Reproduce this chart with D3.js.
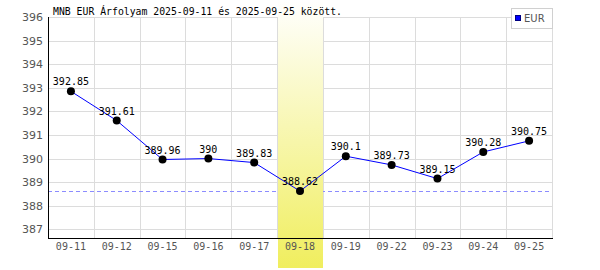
<!DOCTYPE html>
<html>
<head>
<meta charset="utf-8">
<script src="https://cdn.jsdelivr.net/npm/d3@7"></script>
<style>
body { margin: 0; background: #fff; }
svg { display: block; }
</style>
</head>
<body>
<div id="chart"></div>
<script>
var dates = ["09-11", "09-12", "09-15", "09-16", "09-17", "09-18", "09-19", "09-22", "09-23", "09-24", "09-25"];
var rates = [392.85, 391.61, 389.96, 390, 389.83, 388.62, 390.1, 389.73, 389.15, 390.28, 390.75];
var yTicks = [387, 388, 389, 390, 391, 392, 393, 394, 395, 396];
var highlightDate = "09-18";
var seriesName = "EUR";
var title = "MNB EUR Árfolyam 2025-09-11 és 2025-09-25 között.";

var W = 600, H = 270;
var plotLeft = 48, plotRight = 552, plotTop = 17, plotBottom = 238.3;
var mono = "'DejaVu Sans Mono', monospace";

var data = dates.map(function(d, i) { return {date: d, rate: rates[i]}; });
var minRate = d3.min(rates);

var svg = d3.select("#chart").append("svg").attr("width", W).attr("height", H);

var x = d3.scaleBand().domain(dates).range([plotLeft, plotRight]).padding(0);
var y = d3.scaleLinear().domain([minRate - 2, 396]).range([plotBottom, plotTop]);
var cx = function(d) { return x(d.date) + x.bandwidth() / 2; };

// gradient for highlighted day
var grad = svg.append("defs").append("linearGradient").attr("id", "hl").attr("x1", 0).attr("y1", 0).attr("x2", 0).attr("y2", 1);
grad.append("stop").attr("offset", "0%").attr("stop-color", "#ffffff");
grad.append("stop").attr("offset", "100%").attr("stop-color", "#f0ee5e");

// grid
var grid = svg.append("g").attr("shape-rendering", "crispEdges");
grid.selectAll(".hg").data(yTicks).enter().append("line")
    .attr("x1", plotLeft).attr("x2", plotRight)
    .attr("y1", function(d) { return Math.round(y(d)) + 0.5; })
    .attr("y2", function(d) { return Math.round(y(d)) + 0.5; })
    .attr("stroke", "#dcdcdc");
grid.selectAll(".vg").data(dates).enter().append("line")
    .attr("x1", function(d) { return Math.round(x(d) + x.bandwidth()) + 0.5; })
    .attr("x2", function(d) { return Math.round(x(d) + x.bandwidth()) + 0.5; })
    .attr("y1", plotTop).attr("y2", plotBottom)
    .attr("stroke", "#dcdcdc");

// min line
svg.append("line").attr("x1", plotLeft).attr("x2", plotRight)
    .attr("y1", Math.round(y(minRate)) + 0.5).attr("y2", Math.round(y(minRate)) + 0.5)
    .attr("stroke", "#8c8cff").attr("stroke-dasharray", "4,3").attr("shape-rendering", "crispEdges");

// highlight band
svg.append("rect")
    .attr("x", Math.round(x(highlightDate)) + 1).attr("y", 0)
    .attr("width", Math.round(x.bandwidth()) - 1).attr("height", 268)
    .attr("fill", "url(#hl)");

// axes
svg.append("line").attr("x1", plotLeft + 0.5).attr("x2", plotLeft + 0.5).attr("y1", plotTop).attr("y2", plotBottom + 0.5)
    .attr("stroke", "#000").attr("shape-rendering", "crispEdges");
svg.append("line").attr("x1", plotLeft).attr("x2", plotRight + 1).attr("y1", Math.round(plotBottom) + 0.5).attr("y2", Math.round(plotBottom) + 0.5)
    .attr("stroke", "#000").attr("shape-rendering", "crispEdges");

var yAxis = svg.append("g").attr("transform", "translate(" + plotLeft + ",0)")
    .call(d3.axisLeft(y).tickValues(yTicks).tickSize(0).tickPadding(5).tickFormat(d3.format("d")));
yAxis.select(".domain").remove();
yAxis.selectAll("text").attr("fill", "#555").style("font-family", "'DejaVu Sans', sans-serif").style("font-size", "11px");

var xAxis = svg.append("g").attr("transform", "translate(0," + plotBottom + ")")
    .call(d3.axisBottom(x).tickSize(0).tickPadding(5));
xAxis.select(".domain").remove();
xAxis.selectAll("text").attr("fill", "#555").style("font-family", mono).style("font-size", "10px");

// series
var line = d3.line().x(cx).y(function(d) { return y(d.rate); });
svg.append("path").datum(data).attr("d", line).attr("fill", "none").attr("stroke", "#0000ff").attr("stroke-width", 1);

svg.selectAll(".pt").data(data).enter().append("circle")
    .attr("cx", cx).attr("cy", function(d) { return y(d.rate); }).attr("r", 4).attr("fill", "#000");

svg.selectAll(".lbl").data(data).enter().append("text")
    .attr("x", cx).attr("y", function(d) { return y(d.rate) - 6; })
    .attr("text-anchor", "middle").style("font-family", mono).style("font-size", "10px").attr("fill", "#000")
    .text(function(d) { return d.rate; });

// title
svg.append("text").attr("x", 53).attr("y", 15).style("font-family", mono).style("font-size", "9.8px").attr("fill", "#000").text(title);

// legend
var lg = svg.append("g").attr("shape-rendering", "crispEdges");
lg.append("rect").attr("x", 511.5).attr("y", 8.5).attr("width", 41).attr("height", 20).attr("fill", "#fff").attr("stroke", "#d0d0d0");
lg.append("rect").attr("x", 515.5).attr("y", 15.5).attr("width", 5).attr("height", 5).attr("fill", "#0000ff").attr("stroke", "#000080");
lg.append("text").attr("x", 524).attr("y", 22).style("font-family", "'DejaVu Sans', sans-serif").style("font-size", "10px").attr("fill", "#555").text(seriesName);
</script>
</body>
</html>
